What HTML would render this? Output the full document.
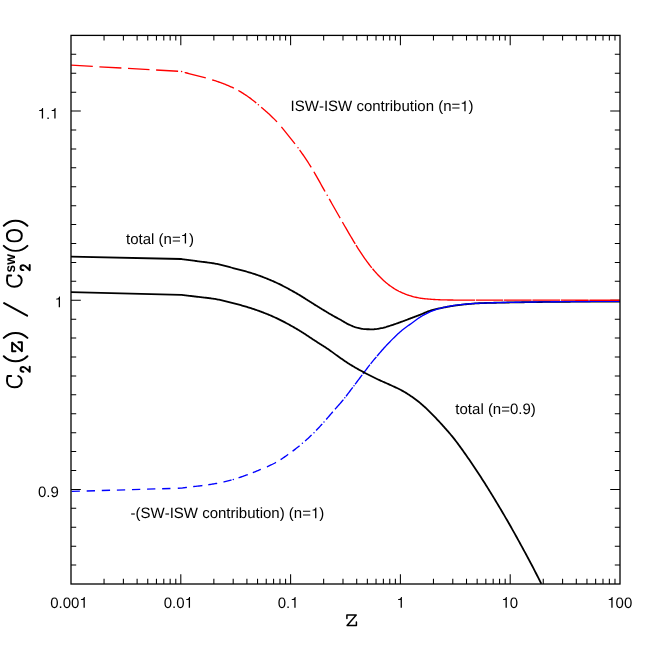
<!DOCTYPE html>
<html><head><meta charset="utf-8"><title>C2(z)</title>
<style>html,body{margin:0;padding:0;background:#fff}svg{display:block;will-change:transform}text{text-rendering:geometricPrecision}</style>
</head><body>
<svg width="654" height="654" viewBox="0 0 654 654">
<rect width="654" height="654" fill="#fff"/>
<path d="M104.05 584 v-5.2 M104.05 35.4 v5.2 M123.39 584 v-5.2 M123.39 35.4 v5.2 M137.11 584 v-5.2 M137.11 35.4 v5.2 M147.75 584 v-5.2 M147.75 35.4 v5.2 M156.44 584 v-5.2 M156.44 35.4 v5.2 M163.79 584 v-5.2 M163.79 35.4 v5.2 M170.16 584 v-5.2 M170.16 35.4 v5.2 M175.78 584 v-5.2 M175.78 35.4 v5.2 M180.8 584 v-9.8 M180.8 35.4 v9.8 M213.85 584 v-5.2 M213.85 35.4 v5.2 M233.19 584 v-5.2 M233.19 35.4 v5.2 M246.91 584 v-5.2 M246.91 35.4 v5.2 M257.55 584 v-5.2 M257.55 35.4 v5.2 M266.24 584 v-5.2 M266.24 35.4 v5.2 M273.59 584 v-5.2 M273.59 35.4 v5.2 M279.96 584 v-5.2 M279.96 35.4 v5.2 M285.58 584 v-5.2 M285.58 35.4 v5.2 M290.6 584 v-9.8 M290.6 35.4 v9.8 M323.65 584 v-5.2 M323.65 35.4 v5.2 M342.99 584 v-5.2 M342.99 35.4 v5.2 M356.71 584 v-5.2 M356.71 35.4 v5.2 M367.35 584 v-5.2 M367.35 35.4 v5.2 M376.04 584 v-5.2 M376.04 35.4 v5.2 M383.39 584 v-5.2 M383.39 35.4 v5.2 M389.76 584 v-5.2 M389.76 35.4 v5.2 M395.38 584 v-5.2 M395.38 35.4 v5.2 M400.4 584 v-9.8 M400.4 35.4 v9.8 M433.45 584 v-5.2 M433.45 35.4 v5.2 M452.79 584 v-5.2 M452.79 35.4 v5.2 M466.51 584 v-5.2 M466.51 35.4 v5.2 M477.15 584 v-5.2 M477.15 35.4 v5.2 M485.84 584 v-5.2 M485.84 35.4 v5.2 M493.19 584 v-5.2 M493.19 35.4 v5.2 M499.56 584 v-5.2 M499.56 35.4 v5.2 M505.18 584 v-5.2 M505.18 35.4 v5.2 M510.2 584 v-9.8 M510.2 35.4 v9.8 M543.25 584 v-5.2 M543.25 35.4 v5.2 M562.59 584 v-5.2 M562.59 35.4 v5.2 M576.31 584 v-5.2 M576.31 35.4 v5.2 M586.95 584 v-5.2 M586.95 35.4 v5.2 M595.64 584 v-5.2 M595.64 35.4 v5.2 M602.99 584 v-5.2 M602.99 35.4 v5.2 M609.36 584 v-5.2 M609.36 35.4 v5.2 M614.98 584 v-5.2 M614.98 35.4 v5.2 M71 565.08 h5.2 M620 565.08 h-5.2 M71 546.17 h5.2 M620 546.17 h-5.2 M71 527.25 h5.2 M620 527.25 h-5.2 M71 508.33 h5.2 M620 508.33 h-5.2 M71 489.41 h9.8 M620 489.41 h-9.8 M71 470.5 h5.2 M620 470.5 h-5.2 M71 451.58 h5.2 M620 451.58 h-5.2 M71 432.66 h5.2 M620 432.66 h-5.2 M71 413.74 h5.2 M620 413.74 h-5.2 M71 394.83 h5.2 M620 394.83 h-5.2 M71 375.91 h5.2 M620 375.91 h-5.2 M71 356.99 h5.2 M620 356.99 h-5.2 M71 338.08 h5.2 M620 338.08 h-5.2 M71 319.16 h5.2 M620 319.16 h-5.2 M71 300.24 h9.8 M620 300.24 h-9.8 M71 281.32 h5.2 M620 281.32 h-5.2 M71 262.41 h5.2 M620 262.41 h-5.2 M71 243.49 h5.2 M620 243.49 h-5.2 M71 224.57 h5.2 M620 224.57 h-5.2 M71 205.66 h5.2 M620 205.66 h-5.2 M71 186.74 h5.2 M620 186.74 h-5.2 M71 167.82 h5.2 M620 167.82 h-5.2 M71 148.9 h5.2 M620 148.9 h-5.2 M71 129.99 h5.2 M620 129.99 h-5.2 M71 111.07 h9.8 M620 111.07 h-9.8 M71 92.15 h5.2 M620 92.15 h-5.2 M71 73.23 h5.2 M620 73.23 h-5.2 M71 54.32 h5.2 M620 54.32 h-5.2" stroke="#000" stroke-width="1.05" fill="none"/>
<clipPath id="c"><rect x="71" y="35.4" width="549" height="548.6"/></clipPath>
<g clip-path="url(#c)" fill="none" stroke-linejoin="round">
<path d="M71 256.7 L181 259 L182 259.13 L183 259.27 L184 259.4 L185 259.53 L186 259.67 L187 259.8 L188 259.93 L189 260.06 L190 260.2 L191 260.33 L192 260.47 L193 260.6 L194 260.73 L195 260.87 L196 261 L197 261.13 L198 261.27 L199 261.4 L200 261.52 L201 261.65 L202 261.77 L203 261.89 L204 262.01 L205 262.14 L206 262.26 L207 262.39 L208 262.52 L209 262.65 L210 262.79 L211 262.94 L212 263.09 L213 263.25 L214 263.42 L215 263.6 L216 263.79 L217 263.99 L218 264.21 L219 264.43 L220 264.66 L221 264.9 L222 265.15 L223 265.4 L224 265.66 L225 265.92 L226 266.18 L227 266.45 L228 266.71 L229 266.98 L230 267.24 L231 267.5 L232 267.75 L233 268.01 L234 268.26 L235 268.52 L236 268.78 L237 269.04 L238 269.29 L239 269.55 L240 269.82 L241 270.08 L242 270.35 L243 270.62 L244 270.89 L245 271.17 L246 271.45 L247 271.74 L248 272.03 L249 272.33 L250 272.63 L251 272.93 L252 273.25 L253 273.56 L254 273.89 L255 274.22 L256 274.56 L257 274.9 L258 275.25 L259 275.61 L260 275.97 L261 276.34 L262 276.71 L263 277.09 L264 277.47 L265 277.86 L266 278.26 L267 278.66 L268 279.06 L269 279.48 L270 279.89 L271 280.32 L272 280.74 L273 281.17 L274 281.61 L275 282.06 L276 282.51 L277 282.97 L278 283.44 L279 283.93 L280 284.41 L281 284.91 L282 285.42 L283 285.93 L284 286.44 L285 286.97 L286 287.5 L287 288.03 L288 288.57 L289 289.12 L290 289.67 L291 290.22 L292 290.78 L293 291.34 L294 291.9 L295 292.46 L296 293.03 L297 293.6 L298 294.19 L299 294.78 L300 295.39 L301 296 L302 296.62 L303 297.24 L304 297.87 L305 298.5 L306 299.14 L307 299.78 L308 300.42 L309 301.06 L310 301.7 L311 302.34 L312 302.98 L313 303.61 L314 304.24 L315 304.87 L316 305.49 L317 306.1 L318 306.71 L319 307.32 L320 307.94 L321 308.55 L322 309.16 L323 309.77 L324 310.38 L325 310.99 L326 311.6 L327 312.2 L328 312.8 L329 313.4 L330 313.99 L331 314.57 L332 315.15 L333 315.72 L334 316.29 L335 316.84 L336 317.38 L337 317.9 L338 318.43 L339 318.96 L340 319.5 L341 320.07 L342 320.66 L343 321.26 L344 321.86 L345 322.46 L346 323.04 L347 323.6 L348 324.11 L349 324.58 L350 325.04 L351 325.49 L352 325.93 L353 326.35 L354 326.73 L355 327.09 L356 327.4 L357 327.68 L358 327.92 L359 328.16 L360 328.39 L361 328.6 L362 328.79 L363 328.96 L364 329.09 L365 329.17 L366 329.21 L367 329.23 L368 329.25 L369 329.27 L370 329.28 L371 329.29 L372 329.3 L373 329.3 L374 329.27 L375 329.2 L376 329.09 L377 328.95 L378 328.78 L379 328.6 L380 328.41 L381 328.21 L382 328.02 L383 327.81 L384 327.56 L385 327.29 L386 327.01 L387 326.7 L388 326.39 L389 326.07 L390 325.75 L391 325.43 L392 325.11 L393 324.79 L394 324.45 L395 324.11 L396 323.76 L397 323.41 L398 323.06 L399 322.7 L400 322.33 L401 321.97 L402 321.61 L403 321.24 L404 320.87 L405 320.49 L406 320.11 L407 319.73 L408 319.34 L409 318.96 L410 318.58 L411 318.2 L412 317.82 L413 317.45 L414 317.08 L415 316.7 L416 316.33 L417 315.95 L418 315.57 L419 315.19 L420 314.8 L421 314.4 L422 313.98 L423 313.55 L424 313.11 L425 312.67 L426 312.25 L427 311.84 L428 311.45 L429 311.09 L430 310.77 L431 310.47 L432 310.19 L433 309.91 L434 309.65 L435 309.4 L436 309.16 L437 308.92 L438 308.7 L439 308.48 L440 308.27 L441 308.06 L442 307.86 L443 307.66 L444 307.47 L445 307.27 L446 307.08 L447 306.9 L448 306.71 L449 306.53 L450 306.36 L451 306.19 L452 306.02 L453 305.86 L454 305.7 L455 305.55 L456 305.41 L457 305.27 L458 305.14 L459 305.02 L460 304.9 L461 304.79 L462 304.68 L463 304.57 L464 304.46 L465 304.35 L466 304.25 L467 304.15 L468 304.05 L469 303.96 L470 303.86 L471 303.78 L472 303.69 L473 303.61 L474 303.54 L475 303.47 L476 303.4 L477 303.34 L478 303.29 L479 303.24 L480 303.2 L481 303.16 L482 303.13 L483 303.09 L484 303.06 L485 303.02 L486 302.99 L487 302.96 L488 302.93 L489 302.9 L490 302.88 L491 302.85 L492 302.82 L493 302.8 L494 302.77 L495 302.75 L496 302.73 L497 302.7 L498 302.68 L499 302.66 L500 302.64 L501 302.62 L502 302.6 L503 302.58 L504 302.56 L505 302.55 L506 302.53 L507 302.51 L508 302.49 L509 302.48 L510 302.46 L511 302.44 L512 302.43 L513 302.41 L514 302.4 L515 302.38 L516 302.36 L517 302.35 L518 302.33 L519 302.32 L520 302.3 L521 302.28 L522 302.27 L523 302.25 L524 302.24 L525 302.22 L526 302.21 L527 302.19 L528 302.18 L529 302.16 L530 302.15 L531 302.13 L532 302.12 L533 302.1 L534 302.09 L535 302.07 L536 302.06 L537 302.05 L538 302.03 L539 302.02 L540 302.01 L541 301.99 L542 301.98 L543 301.97 L544 301.96 L545 301.94 L546 301.93 L547 301.92 L548 301.91 L549 301.9 L550 301.89 L551 301.88 L552 301.87 L553 301.86 L554 301.85 L555 301.84 L556 301.83 L557 301.82 L558 301.82 L559 301.81 L560 301.8 L561 301.79 L562 301.79 L563 301.78 L564 301.77 L565 301.76 L566 301.76 L567 301.75 L568 301.74 L569 301.73 L570 301.73 L571 301.72 L572 301.71 L573 301.71 L574 301.7 L575 301.69 L576 301.69 L577 301.68 L578 301.67 L579 301.67 L580 301.66 L581 301.65 L582 301.65 L583 301.64 L584 301.63 L585 301.63 L586 301.62 L587 301.62 L588 301.61 L589 301.6 L590 301.6 L591 301.59 L592 301.59 L593 301.58 L594 301.58 L595 301.57 L596 301.57 L597 301.56 L598 301.56 L599 301.55 L600 301.55 L601 301.55 L602 301.54 L603 301.54 L604 301.53 L605 301.53 L606 301.53 L607 301.52 L608 301.52 L609 301.52 L610 301.52 L611 301.51 L612 301.51 L613 301.51 L614 301.51 L615 301.51 L616 301.5 L617 301.5 L618 301.5 L619 301.5 L620 301.5" stroke="#000" stroke-width="1.8"/>
<path d="M71.6 491.4 L79.9 491.16 M86.69 490.96 L94.99 490.72 M101.79 490.52 L110.08 490.27 M116.88 490.08 L125.18 489.83 M131.97 489.63 L140.27 489.39 M147.07 489.19 L155.36 488.95 M162.16 488.75 L170.46 488.51 M177.8 488.29 L181 488.2 L182 488.05 L183 487.91 L184 487.76 L185 487.62 L186 487.49 L186.9 487.37 M193.2 486.61 L194 486.52 L195 486.41 L196 486.3 L197 486.19 L198 486.07 L199 485.96 L200 485.84 L201 485.72 L202 485.59 L202.4 485.54 M208.3 484.74 L209 484.64 L210 484.49 L211 484.34 L212 484.19 L213 484.03 L214 483.87 L215 483.7 L216 483.53 L217 483.35 L217.2 483.32 M223.5 482.02 L224 481.9 L225 481.67 L226 481.43 L227 481.18 L228 480.93 L229 480.67 L230 480.4 L231 480.14 L231.5 480 M238.6 477.83 L239 477.69 L240 477.35 L241 477.01 L242 476.66 L243 476.31 L244 475.95 L245 475.59 L246 475.23 L247 474.86 L247.8 474.57 M252.8 472.68 L253 472.6 L254 472.21 L255 471.81 L256 471.4 L257 470.99 L258 470.58 L259 470.16 L260 469.74 L260.8 469.4 M266.9 466.81 L267 466.77 L268 466.33 L269 465.89 L270 465.43 L271 464.97 L272 464.5 L273 464.01 L274 463.51 L275 462.99 L276 462.45 M280.6 459.67 L281 459.41 L282 458.74 L283 458.05 L284 457.35 L285 456.65 L286 455.94 L287 455.23 L288 454.51 L288.2 454.37 M292.6 451.17 L293 450.87 L294 450.12 L295 449.35 L296 448.58 L297 447.79 L298 447 L299 446.19 L299.6 445.7 M305.1 441 L306 440.2 L307 439.3 L308 438.39 L309 437.46 L310 436.52 L311 435.57 L311.6 435 M316.1 430.5 L317 429.57 L318 428.52 L319 427.46 L320 426.39 L321 425.31 L322 424.22 L322.2 424 M326.2 419.49 L327 418.56 L328 417.4 L329 416.23 L330 415.06 L331 413.89 L332 412.72 L332.8 411.8 M335 409.3 L336 408.17 L337 407.04 L338 405.91 L339 404.78 L340 403.63 L341 402.47 L342 401.29 L343 400.09 L343.4 399.6 M346 396.31 L347 395.01 L348 393.69 L349 392.36 L350 391.02 L351 389.69 L352 388.36 L352.8 387.3 M355.1 384.26 L356 383.07 L357 381.75 L358 380.42 L359 379.09 L360 377.76 L361 376.44 L362 375.11 L362.2 374.85 M363 373.79 L364 372.47 L365 371.14 L366 369.81 L367 368.48 L368 367.15 L369 365.84 L369.9 364.69 M370.6 363.8 L371 363.3 L372 362.07 L373 360.87 L374 359.68 L375 358.5 L376 357.32 L376.4 356.85 M377 356.15 L378 354.96 L379 353.79 L380 352.61 L381 351.45 L382 350.3 L383 349.18 L384 348.06 L385 346.96 L386 345.88 L387 344.8 L388 343.74 L389 342.7 L390 341.66 L391 340.64 L392 339.64 L393 338.64 L394 337.67 L395 336.7 L396 335.74 L397 334.79 L398 333.85 L399 332.93 L400 332.03 L401 331.17 L402 330.34 L403 329.54 L404 328.76 L405 328.01 L406 327.26 L407 326.52 L408 325.79 L409 325.08 L410 324.38 L411 323.68 L412 322.99 L413 322.28 L414 321.56 L415 320.81 L416 320.05 L417 319.29 L418 318.55 L419 317.85 L420 317.2 L421 316.6 L422 316.01 L423 315.44 L424 314.89 L425 314.35 L426 313.83 L427 313.33 L428 312.84 L429 312.38 L430 311.92 L431 311.49 L432 311.08 L433 310.67 L434 310.28 L435 309.89 L436 309.53 L437 309.18 L438 308.86 L439 308.56 L440 308.3 L441 308.05 L442 307.82 L443 307.58 L444 307.36 L445 307.14 L446 306.93 L447 306.72 L448 306.52 L449 306.33 L450 306.14 L451 305.97 L452 305.79 L453 305.63 L454 305.48 L455 305.33 L456 305.19 L457 305.05 L458 304.93 L459 304.81 L460 304.7 L461 304.6 L462 304.49 L463 304.39 L464 304.3 L465 304.21 L466 304.11 L467 304.03 L468 303.94 L469 303.86 L470 303.78 L471 303.71 L472 303.64 L473 303.57 L474 303.51 L475 303.45 L476 303.39 L477 303.34 L478 303.29 L479 303.24 L480 303.2 L481 303.16 L482 303.12 L483 303.09 L484 303.05 L485 303.01 L486 302.98 L487 302.95 L488 302.91 L489 302.88 L490 302.85 L491 302.82 L492 302.79 L493 302.76 L494 302.74 L495 302.71 L496 302.68 L497 302.66 L498 302.63 L499 302.61 L500 302.58 L501 302.56 L502 302.54 L503 302.52 L504 302.5 L505 302.47 L506 302.45 L507 302.43 L508 302.41 L509 302.39 L510 302.38 L511 302.36 L512 302.34 L513 302.32 L514 302.3 L515 302.29 L516 302.27 L517 302.25 L518 302.23 L519 302.22 L520 302.2 L521 302.18 L522 302.17 L523 302.15 L524 302.14 L525 302.12 L526 302.1 L527 302.09 L528 302.07 L529 302.06 L530 302.04 L531 302.03 L532 302.02 L533 302 L534 301.99 L535 301.98 L536 301.96 L537 301.95 L538 301.94 L539 301.92 L540 301.91 L541 301.9 L542 301.89 L543 301.87 L544 301.86 L545 301.85 L546 301.84 L547 301.83 L548 301.82 L549 301.81 L550 301.8 L551 301.79 L552 301.78 L553 301.77 L554 301.76 L555 301.75 L556 301.74 L557 301.73 L558 301.72 L559 301.71 L560 301.7 L561 301.69 L562 301.68 L563 301.67 L564 301.66 L565 301.66 L566 301.65 L567 301.64 L568 301.63 L569 301.62 L570 301.61 L571 301.6 L572 301.6 L573 301.59 L574 301.58 L575 301.57 L576 301.56 L577 301.56 L578 301.55 L579 301.54 L580 301.53 L581 301.52 L582 301.52 L583 301.51 L584 301.5 L585 301.49 L586 301.49 L587 301.48 L588 301.47 L589 301.46 L590 301.46 L591 301.45 L592 301.44 L593 301.44 L594 301.43 L595 301.42 L596 301.42 L597 301.41 L598 301.4 L599 301.4 L600 301.39 L601 301.39 L602 301.38 L603 301.38 L604 301.37 L605 301.36 L606 301.36 L607 301.35 L608 301.35 L609 301.34 L610 301.34 L611 301.33 L612 301.33 L613 301.33 L614 301.32 L615 301.32 L616 301.31 L617 301.31 L618 301.31 L619 301.3 L620 301.3" stroke="#0000ff" stroke-width="1.35"/>
<path d="M233.3 479.49 h0.01 M302.4 443.35 h0.01 M314 432.64 h0.01 M324 422 h0.01 M344.8 397.85 h0.01 M354 385.72 h0.01" stroke="#0000ff" stroke-width="1.5" stroke-linecap="round"/>
<path d="M71.2 65.2 L92.8 66.42 M99.4 66.8 L121.4 68.04 M128 68.41 L149.5 69.63 M156.1 70 L178.1 71.25 M184.7 72.44 L184.8 72.47 L185.8 72.74 L186.8 73.01 L187.8 73.27 L188.8 73.54 L189.8 73.81 L190.8 74.08 L191.8 74.34 L192.8 74.61 L193.8 74.88 L194.8 75.15 L195.8 75.41 L196.8 75.67 L197.8 75.93 L198.8 76.19 L199.8 76.44 L200.8 76.69 L201.8 76.94 L202.8 77.2 L203.8 77.45 L204.8 77.71 L205.8 77.97 M212.2 79.8 L212.8 79.99 L213.8 80.31 L214.8 80.64 L215.8 80.97 L216.8 81.3 L217.8 81.65 L218.8 82 L219.8 82.35 L220.8 82.72 L221.8 83.09 L222.8 83.47 L223.8 83.85 L224.8 84.24 L225.8 84.64 L226.8 85.05 L227.8 85.47 L228.8 85.89 L229.8 86.33 L230.8 86.77 L231.8 87.22 L232.8 87.68 L233.8 88.15 L233.9 88.2 M238.3 90.49 L238.8 90.77 L239.8 91.35 L240.8 91.95 L241.8 92.56 L242.8 93.18 L243.8 93.82 L244.8 94.47 L245.8 95.13 L246.8 95.8 L247.8 96.48 L248.8 97.18 L249.8 97.91 L250.8 98.66 L251.8 99.42 L252.8 100.21 L253.8 101 L254.8 101.81 L255.8 102.63 L256.2 102.97 M261.2 107.2 L261.8 107.71 L262.8 108.57 L263.8 109.44 L264.8 110.31 L265.8 111.19 L266.8 112.07 L267.8 112.97 L268.8 113.87 L269.8 114.79 L270.8 115.73 L271.8 116.68 L272.8 117.64 L273.8 118.62 L274.8 119.62 L275.8 120.65 L276.8 121.69 L277 121.9 M281.4 126.92 L281.8 127.4 L282.8 128.62 L283.8 129.86 L284.8 131.12 L285.8 132.39 L286.8 133.66 L287.8 134.93 L288.8 136.19 L289.8 137.45 L290.8 138.7 L291.8 139.94 L292.8 141.19 L293.8 142.44 L294.8 143.7 L295 143.95 M299.6 150 L299.8 150.28 L300.8 151.66 L301.8 153.07 L302.8 154.5 L303.8 155.95 L304.8 157.42 L305.8 158.91 L306.8 160.42 L307.8 161.95 L308.8 163.5 L309.8 165.07 L310.8 166.66 L311.2 167.3 M313.9 171.78 L314.8 173.33 L315.8 175.07 L316.8 176.83 L317.8 178.61 L318.8 180.4 L319.8 182.2 L320.8 184 L321.8 185.8 L322.8 187.6 L323.8 189.38 L324.8 191.15 L325 191.5 M329.2 198.89 L329.8 199.94 L330.8 201.7 L331.8 203.46 L332.8 205.22 L333.8 206.98 L334.8 208.74 L335.8 210.5 L336.8 212.25 L337.8 214.01 L338.8 215.76 L339.8 217.5 L340.2 218.2 M342.4 222.04 L342.8 222.74 L343.8 224.48 L344.8 226.22 L345.8 227.96 L346.8 229.69 L347.8 231.41 L348.8 233.12 L349.8 234.82 L350.8 236.52 L351.8 238.21 L352.8 239.89 L353.8 241.56 L354.8 243.2 L355.2 243.85 M356 245.14 L356.8 246.43 L357.8 248.02 L358.8 249.6 L359.8 251.15 L360.8 252.69 L361.8 254.19 L362.8 255.66 L363.8 257.1 L364.8 258.52 L365.8 259.93 L366.8 261.31 L367.8 262.68 L368.8 264.01 L369.8 265.32 L370.8 266.6 L371.8 267.84 M372.5 268.68 L372.8 269.04 L373.8 270.23 L374.8 271.39 L375.8 272.54 L376.8 273.65 L377.8 274.74 L378.8 275.8 L379.8 276.82 L380.8 277.82 L381.8 278.78 L382.8 279.72 L383.8 280.64 L384.8 281.54 L385.8 282.41 L386.8 283.25 L387.8 284.07 L388.8 284.85 L389.8 285.6 L390.8 286.31 L391.8 287 L392.8 287.67 L393.8 288.32 L394.8 288.95 L395.8 289.56 L396.8 290.15 L397.8 290.7 L398.8 291.23 L399.8 291.73 L400.8 292.19 L401.8 292.63 L402.8 293.06 L403.8 293.48 L404.8 293.88 L405.8 294.26 L406.8 294.64 L407.8 294.99 L408.8 295.33 L409.8 295.66 L410.8 295.97 L411.8 296.26 L412.8 296.54 L413.8 296.8 L414.8 297.05 L415.8 297.28 L416.8 297.5 L417.8 297.71 L418.8 297.9 L419.8 298.07 L420.8 298.23 L421.8 298.38 L422.8 298.52 L423.8 298.65 L424.8 298.76 L425.8 298.86 L426.8 298.95 L427.8 299.04 L428.8 299.12 L429.8 299.2 L430.8 299.27 L431.8 299.35 L432.8 299.41 L433.8 299.48 L434.8 299.54 L435.8 299.6 L436.8 299.65 L437.8 299.69 L438.8 299.73 L439.8 299.77 L440.8 299.8 L441.8 299.82 L442.8 299.85 L443.8 299.87 L444.8 299.89 L445.8 299.92 L446.8 299.94 L447.8 299.96 L448.8 299.98 L449.8 300 L450.8 300.01 L451.8 300.03 L452.8 300.04 L453.8 300.06 L454.8 300.07 L455.8 300.08 L456.8 300.09 L457.8 300.09 L458.8 300.1 L459.8 300.1 L460.8 300.1 L461.8 300.1 L462.8 300.1 L463.8 300.11 L464.8 300.11 L465.8 300.11 L466.8 300.11 L467.8 300.11 L468.8 300.11 L469.8 300.11 L470.8 300.12 L471.8 300.12 L472.8 300.12 L473.8 300.12 L474.8 300.12 L475.2 300.12 M476 300.12 L476.8 300.12 L477.8 300.13 L478.8 300.13 L479.8 300.13 L480.8 300.13 L481.8 300.13 L482.8 300.13 L483.8 300.13 L484.8 300.13 L485.8 300.14 L486.8 300.14 L487.8 300.14 L488.8 300.14 L489.8 300.14 L490.8 300.14 L491.8 300.14 L492.8 300.14 L493.8 300.14 L494.8 300.15 L495.8 300.15 L496.8 300.15 L497.8 300.15 L498.8 300.15 L499.8 300.15 L500.8 300.15 L501.8 300.15 L502.8 300.15 L503.1 300.15 M503.9 300.16 L504.8 300.16 L505.8 300.16 L506.8 300.16 L507.8 300.16 L508.8 300.16 L509.8 300.16 L510.8 300.16 L511.8 300.16 L512.8 300.16 L513.8 300.16 L514.8 300.16 L515.8 300.17 L516.8 300.17 L517.8 300.17 L518.8 300.17 L519.8 300.17 L520.8 300.17 L521.8 300.17 L522.8 300.17 L523.8 300.17 L524.8 300.17 L525.8 300.17 L526.8 300.17 L527.8 300.17 L528.8 300.18 L529.8 300.18 L530.8 300.18 L531.6 300.18 M532.4 300.18 L532.8 300.18 L533.8 300.18 L534.8 300.18 L535.8 300.18 L536.8 300.18 L537.8 300.18 L538.8 300.18 L539.8 300.18 L540.8 300.18 L541.8 300.18 L542.8 300.18 L543.8 300.18 L544.8 300.18 L545.8 300.18 L546.8 300.19 L547.8 300.19 L548.8 300.19 L549.8 300.19 L550.8 300.19 L551.8 300.19 L552.8 300.19 L553.8 300.19 L554.8 300.19 L555.8 300.19 L556.8 300.19 L557.8 300.19 L558.8 300.19 L559.8 300.19 L560.1 300.19 M560.9 300.19 L561.8 300.19 L562.8 300.19 L563.8 300.19 L564.8 300.19 L565.8 300.19 L566.8 300.19 L567.8 300.19 L568.8 300.19 L569.8 300.19 L570.8 300.19 L571.8 300.19 L572.8 300.19 L573.8 300.19 L574.8 300.2 L575.8 300.2 L576.8 300.2 L577.8 300.2 L578.8 300.2 L579.8 300.2 L580.8 300.2 L581.8 300.2 L582.8 300.2 L583.8 300.2 L584.8 300.2 L585.8 300.2 L586.8 300.2 L587.8 300.2 L588.6 300.2 M589.4 300.2 L589.8 300.2 L590.8 300.2 L591.8 300.2 L592.8 300.2 L593.8 300.2 L594.8 300.2 L595.8 300.2 L596.8 300.2 L597.8 300.2 L598.8 300.2 L599.8 300.2 L600.8 300.2 L601.8 300.2 L602.8 300.2 L603.8 300.2 L604.8 300.2 L605.8 300.2 L606.8 300.2 L607.8 300.2 L608.8 300.2 L609.8 300.2 L610.8 300.2 L611.8 300.2 L612.8 300.2 L613.8 300.2 L614.8 300.2 L615.8 300.2 L616.8 300.2 L617.8 300.2 L618.8 300.2 L619.8 300.2 L620 300.2" stroke="#ff0000" stroke-width="1.35"/>
<path d="M181.6 71.61 h0.01 M258.4 104.81 h0.01 M298 147.84 h0.01 M327.2 195.37 h0.01" stroke="#ff0000" stroke-width="1.5" stroke-linecap="round"/>
<path d="M71 292.1 L181 294.8 L182 294.92 L183 295.04 L184 295.16 L185 295.28 L186 295.4 L187 295.53 L188 295.65 L189 295.77 L190 295.89 L191 296.01 L192 296.13 L193 296.25 L194 296.37 L195 296.5 L196 296.62 L197 296.74 L198 296.86 L199 296.98 L200 297.09 L201 297.21 L202 297.32 L203 297.43 L204 297.54 L205 297.65 L206 297.76 L207 297.88 L208 297.99 L209 298.12 L210 298.24 L211 298.38 L212 298.52 L213 298.66 L214 298.82 L215 298.98 L216 299.16 L217 299.34 L218 299.54 L219 299.74 L220 299.95 L221 300.17 L222 300.4 L223 300.63 L224 300.87 L225 301.11 L226 301.35 L227 301.6 L228 301.85 L229 302.1 L230 302.35 L231 302.6 L232 302.85 L233 303.1 L234 303.36 L235 303.61 L236 303.88 L237 304.14 L238 304.41 L239 304.68 L240 304.95 L241 305.23 L242 305.51 L243 305.79 L244 306.08 L245 306.37 L246 306.67 L247 306.97 L248 307.28 L249 307.58 L250 307.9 L251 308.22 L252 308.54 L253 308.87 L254 309.2 L255 309.54 L256 309.88 L257 310.23 L258 310.59 L259 310.95 L260 311.31 L261 311.68 L262 312.06 L263 312.44 L264 312.83 L265 313.23 L266 313.62 L267 314.03 L268 314.44 L269 314.85 L270 315.28 L271 315.7 L272 316.13 L273 316.57 L274 317.01 L275 317.46 L276 317.92 L277 318.38 L278 318.86 L279 319.34 L280 319.84 L281 320.34 L282 320.84 L283 321.36 L284 321.88 L285 322.4 L286 322.94 L287 323.48 L288 324.02 L289 324.57 L290 325.12 L291 325.68 L292 326.25 L293 326.81 L294 327.38 L295 327.95 L296 328.53 L297 329.12 L298 329.71 L299 330.32 L300 330.94 L301 331.56 L302 332.19 L303 332.83 L304 333.47 L305 334.12 L306 334.77 L307 335.43 L308 336.09 L309 336.75 L310 337.41 L311 338.07 L312 338.73 L313 339.39 L314 340.05 L315 340.7 L316 341.35 L317 342 L318 342.64 L319 343.28 L320 343.92 L321 344.55 L322 345.19 L323 345.82 L324 346.46 L325 347.11 L326 347.76 L327 348.42 L328 349.08 L329 349.76 L330 350.46 L331 351.17 L332 351.89 L333 352.63 L334 353.37 L335 354.11 L336 354.85 L337 355.57 L338 356.29 L339 356.99 L340 357.69 L341 358.39 L342 359.09 L343 359.78 L344 360.47 L345 361.15 L346 361.82 L347 362.49 L348 363.14 L349 363.78 L350 364.41 L351 365.03 L352 365.64 L353 366.24 L354 366.83 L355 367.41 L356 367.99 L357 368.56 L358 369.12 L359 369.68 L360 370.23 L361 370.78 L362 371.32 L363 371.86 L364 372.4 L365 372.93 L366 373.46 L367 373.98 L368 374.5 L369 375.01 L370 375.52 L371 376.03 L372 376.53 L373 377.02 L374 377.51 L375 378 L376 378.48 L377 378.96 L378 379.44 L379 379.9 L380 380.36 L381 380.81 L382 381.25 L383 381.7 L384 382.14 L385 382.58 L386 383.02 L387 383.46 L388 383.91 L389 384.37 L390 384.83 L391 385.29 L392 385.75 L393 386.2 L394 386.66 L395 387.12 L396 387.59 L397 388.06 L398 388.54 L399 389.03 L400 389.53 L401 390.05 L402 390.58 L403 391.13 L404 391.7 L405 392.29 L406 392.89 L407 393.51 L408 394.15 L409 394.79 L410 395.46 L411 396.13 L412 396.82 L413 397.52 L414 398.23 L415 398.96 L416 399.71 L417 400.48 L418 401.27 L419 402.07 L420 402.89 L421 403.73 L422 404.58 L423 405.45 L424 406.34 L425 407.26 L426 408.2 L427 409.15 L428 410.12 L429 411.11 L430 412.1 L431 413.1 L432 414.1 L433 415.11 L434 416.14 L435 417.17 L436 418.22 L437 419.28 L438 420.35 L439 421.43 L440 422.51 L441 423.61 L442 424.71 L443 425.82 L444 426.93 L445 428.04 L446 429.17 L447 430.3 L448 431.45 L449 432.61 L450 433.78 L451 434.97 L452 436.18 L453 437.4 L454 438.65 L455 439.92 L456 441.22 L457 442.53 L458 443.87 L459 445.23 L460 446.6 L461 447.98 L462 449.38 L463 450.79 L464 452.21 L465 453.63 L466 455.06 L467 456.49 L468 457.92 L469 459.36 L470 460.81 L471 462.27 L472 463.73 L473 465.21 L474 466.7 L475 468.2 L476 469.7 L477 471.21 L478 472.73 L479 474.26 L480 475.79 L481 477.34 L482 478.89 L483 480.45 L484 482.02 L485 483.59 L486 485.18 L487 486.78 L488 488.38 L489 490 L490 491.61 L491 493.24 L492 494.87 L493 496.51 L494 498.15 L495 499.8 L496 501.45 L497 503.11 L498 504.78 L499 506.45 L500 508.13 L501 509.81 L502 511.5 L503 513.2 L504 514.91 L505 516.62 L506 518.34 L507 520.07 L508 521.81 L509 523.55 L510 525.3 L511 527.06 L512 528.83 L513 530.61 L514 532.39 L515 534.18 L516 535.98 L517 537.79 L518 539.6 L519 541.42 L520 543.24 L521 545.07 L522 546.9 L523 548.73 L524 550.57 L525 552.42 L526 554.27 L527 556.13 L528 557.99 L529 559.86 L530 561.74 L531 563.63 L532 565.54 L533 567.45 L534 569.37 L535 571.31 L536 573.26 L537 575.22 L538 577.2 L539 579.19 L540 581.19 L541 583.2 L541.3 583.8" stroke="#000" stroke-width="1.8"/>
</g>
<rect x="71" y="35.4" width="549" height="548.6" fill="none" stroke="#000" stroke-width="1.3"/>
<g font-family="'Liberation Sans', sans-serif" fill="#000" style="font-kerning:none" xml:space="preserve">
<text x="50.22" y="607.7" font-size="15">0.00</text>
<path transform="translate(79.41,607.7) scale(15,-15)" d="M0.359 0H0.273V0.507H0.101V0.568C0.2 0.573 0.283 0.6 0.303 0.709H0.359Z"/>
<text x="163.79" y="607.7" font-size="15">0.0</text>
<path transform="translate(184.64,607.7) scale(15,-15)" d="M0.359 0H0.273V0.507H0.101V0.568C0.2 0.573 0.283 0.6 0.303 0.709H0.359Z"/>
<text x="277.71" y="607.7" font-size="15">0.</text>
<path transform="translate(290.22,607.7) scale(15,-15)" d="M0.359 0H0.273V0.507H0.101V0.568C0.2 0.573 0.283 0.6 0.303 0.709H0.359Z"/>
<path transform="translate(501.44,607.7) scale(15,-15)" d="M0.359 0H0.273V0.507H0.101V0.568C0.2 0.573 0.283 0.6 0.303 0.709H0.359Z"/>
<text x="509.79" y="607.7" font-size="15">0</text>
<path transform="translate(607.22,607.7) scale(15,-15)" d="M0.359 0H0.273V0.507H0.101V0.568C0.2 0.573 0.283 0.6 0.303 0.709H0.359Z"/>
<text x="615.56" y="607.7" font-size="15">00</text>
<path transform="translate(396.51,607.7) scale(15,-15)" d="M0.359 0H0.273V0.507H0.101V0.568C0.2 0.573 0.283 0.6 0.303 0.709H0.359Z"/>
<path transform="translate(37.7,118.6) scale(15,-15)" d="M0.359 0H0.273V0.507H0.101V0.568C0.2 0.573 0.283 0.6 0.303 0.709H0.359Z"/>
<text x="46.04" y="118.6" font-size="15">.</text>
<path transform="translate(50.2,118.6) scale(15,-15)" d="M0.359 0H0.273V0.507H0.101V0.568C0.2 0.573 0.283 0.6 0.303 0.709H0.359Z"/>
<path transform="translate(54.62,307.2) scale(15,-15)" d="M0.359 0H0.273V0.507H0.101V0.568C0.2 0.573 0.283 0.6 0.303 0.709H0.359Z"/>
<text x="37.94" y="496.6" font-size="15">0.9</text>
<text x="290.62" y="111.3" font-size="15">ISW-ISW contribution (n=</text>
<path transform="translate(460.25,111.3) scale(15,-15)" d="M0.359 0H0.273V0.507H0.101V0.568C0.2 0.573 0.283 0.6 0.303 0.709H0.359Z"/>
<text x="468.59" y="111.3" font-size="15">)</text>
<text x="126.07" y="243.6" font-size="15">total (n=</text>
<path transform="translate(180.69,243.6) scale(15,-15)" d="M0.359 0H0.273V0.507H0.101V0.568C0.2 0.573 0.283 0.6 0.303 0.709H0.359Z"/>
<text x="189.03" y="243.6" font-size="15">)</text>
<text x="455.37" y="413.8" font-size="15">total (n=0.9)</text>
<text x="130.53" y="518.2" font-size="15">-(SW-ISW contribution) (n=</text>
<path transform="translate(310.99,518.2) scale(15,-15)" d="M0.359 0H0.273V0.507H0.101V0.568C0.2 0.573 0.283 0.6 0.303 0.709H0.359Z"/>
<text x="319.33" y="518.2" font-size="15">)</text>
</g>
<path d="M346.9 618.5 V614.9 H356.2 L347.1 625.5 H356.4 V622.1" fill="none" stroke="#000" stroke-width="1.5" stroke-linejoin="round" stroke-linecap="round"/>
<g transform="translate(0,388) rotate(-90)">
<path d="M12 11.2 V7.6 C10.4 7.1 8.8 7.0 7 7.0 C3.1 7.0 0.7 10.0 0.7 14.4 C0.7 18.8 3.1 21.7 6.8 21.7 C9.4 21.7 11.1 20.6 11.9 18.3 M16.3 23.4 C16.3 21.5 17.4 20.5 18.7 20.5 C20.2 20.5 21.1 21.5 21.1 23.2 C21.1 25.2 18.7 26.8 16.2 29.7 H21.4 M31.7 3.8 A16.5 16.5 0 0 0 31.7 27.4 M36.7 15.5 V12.1 H45.4 L36.8 21.9 H45.7 V18.4 M50.1 3.8 A16.5 16.5 0 0 1 50.1 27.4 M72.3 27.1 L84.9 4.1 M112.6 11.2 V7.6 C111 7.1 109.4 7.0 107.6 7.0 C103.7 7.0 101.3 10.0 101.3 14.4 C101.3 18.8 103.7 21.7 107.4 21.7 C110 21.7 111.7 20.6 112.5 18.3 M117.9 23.4 C117.9 21.5 119 20.5 120.3 20.5 C121.8 20.5 122.7 21.5 122.7 23.2 C122.7 25.2 120.3 26.8 117.8 29.7 H123 M142.1 3.8 A16.5 16.5 0 0 0 142.1 27.4 M146.65 14.35 C146.65 9.88 148.57 6.9 152.3 6.9 C156.03 6.9 157.95 9.88 157.95 14.35 C157.95 18.82 156.03 21.8 152.3 21.8 C148.57 21.8 146.65 18.82 146.65 14.35Z M162.2 3.8 A16.5 16.5 0 0 1 162.2 27.4" fill="none" stroke="#000" stroke-width="1.95" stroke-linecap="round" stroke-linejoin="round"/>
<text x="115.6" y="15.4" font-family="'Liberation Sans', sans-serif" font-weight="bold" font-size="14.5" textLength="18.2" lengthAdjust="spacingAndGlyphs">sw</text>
</g>
</svg>
</body></html>
